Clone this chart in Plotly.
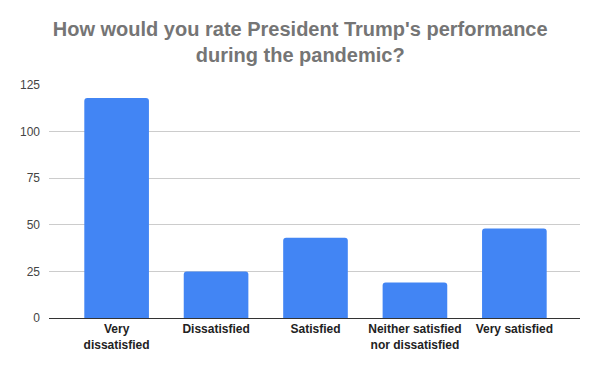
import plotly.graph_objects as go

categories = ["Very<br>dissatisfied", "Dissatisfied", "Satisfied",
              "Neither satisfied<br>nor dissatisfied", "Very satisfied"]
values = [118, 25, 43, 19, 48]
y_ticks = [0, 25, 50, 75, 100, 125]

fig = go.Figure(go.Bar(
    x=list(range(len(categories))), y=values,
    marker=dict(color="#4285F4", line=dict(width=0)),
    width=0.65,
))

fig.update_layout(
    width=600, height=371,
    margin=dict(l=37, r=28, t=77, b=61),
    paper_bgcolor="white", plot_bgcolor="white",
    font=dict(family="Liberation Sans, Arial, sans-serif"),
    barcornerradius=3,
    title=dict(
        text="<b>How would you rate President Trump's performance<br>during the pandemic?</b>",
        x=0.487, xanchor="center", y=0.925, yanchor="top",
        font=dict(size=20, color="#757575"),
    ),
    showlegend=False,
)
fig.update_xaxes(
    tickmode="array", tickvals=list(range(len(categories))), ticktext=[f"<b>{c}</b>" for c in categories],
    range=[-0.68, 4.66], showgrid=False, showline=True, linecolor="#333333", linewidth=1,
    tickfont=dict(size=12, color="#222222"), ticks="",
)
fig.update_yaxes(
    range=[0, 125], tickvals=y_ticks, showgrid=True, gridcolor="#cccccc", gridwidth=1,
    zeroline=False, tickfont=dict(size=12, color="#444444"), ticks="", ticklabelstandoff=8,
)

fig.write_html("out.html")
